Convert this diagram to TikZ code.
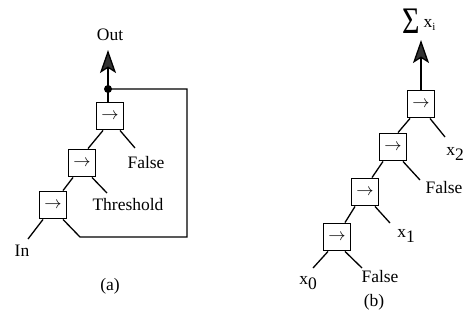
\documentclass[tikz,border=0pt]{standalone}
\usepackage{fontspec}
\setmainfont{Liberation Serif}
\usetikzlibrary{arrows.meta,calc}
\begin{document}
\begin{tikzpicture}[x=1pt,y=-1pt,
  box/.style={draw,line width=1.4pt,minimum size=27.5pt,inner sep=0pt,font=\fontsize{16}{18}\selectfont},
  wire/.style={line width=1.3pt},
  lbl/.style={font=\fontsize{17.5}{20}\selectfont,inner sep=0pt},
  bigarrow/.style={line width=1.3pt,-{Stealth[length=23pt,width=16pt,inset=5pt,fill=black!80]}}]
\useasboundingbox (0,0) rectangle (470,325);
% ---------- panel (a)
\node[box] (a1) at (110,116) {$\rightarrow$};
\node[box] (a2) at (82,163) {$\rightarrow$};
\node[box] (a3) at (53,205) {$\rightarrow$};
\node[lbl] (out) at (110,35) {Out};
\node[lbl] (fa) at (146,163) {False};
\node[lbl] (th) at (128,205) {Threshold};
\node[lbl] (in) at (22,251) {In};
\node[lbl] (la) at (110,286) {(a)};
\fill (108,89) circle (4pt) coordinate (dot);
\coordinate (tipa) at (108,50);
\coordinate (fae) at (135,148);
\coordinate (the) at (107,193);
\coordinate (ine) at (28,239);
\coordinate (c1) at (187,89);
\coordinate (c2) at (187,237);
\coordinate (c3) at (80,237);
\draw[wire] (a1.north -| dot) -- (dot);
\draw[bigarrow] (dot) -- (tipa);
\draw[wire] ($(a1.south)+(-7,0)$) -- ($(a2.north)+(6,0)$);
\draw[wire] ($(a1.south)+(10,0)$) -- (fae);
\draw[wire] ($(a2.south)+(-9,0)$) -- ($(a3.north)+(10,0)$);
\draw[wire] ($(a2.south)+(10,0)$) -- (the);
\draw[wire] ($(a3.south)+(-10,0)$) -- (ine);
\draw[wire] ($(a3.south)+(10,0)$) -- (c3) -- (c2) -- (c1) -- (dot);
% ---------- panel (b)
\node[box] (b4) at (421,104) {$\rightarrow$};
\node[box] (b3) at (393,147) {$\rightarrow$};
\node[box] (b2) at (365,192) {$\rightarrow$};
\node[box] (b1) at (337,237) {$\rightarrow$};
\node[lbl,anchor=base west] (sum) at (402,33) {\scalebox{1}[1.25]{\fontsize{30}{30}\selectfont Σ}\hspace{4pt}\raisebox{6pt}{x\raisebox{-3pt}{\fontsize{11}{12}\selectfont i}}};
\node[lbl] (x2) at (455,154) {x\raisebox{-5pt}{2}};
\node[lbl] (fb1) at (444,188) {False};
\node[lbl] (x1) at (406,236) {x\raisebox{-5pt}{1}};
\node[lbl] (x0) at (308,283) {x\raisebox{-5pt}{0}};
\node[lbl] (fb0) at (380,277) {False};
\node[lbl] (lb) at (374,302) {(b)};
\coordinate (tipb) at (421,40);
\coordinate (x2e) at (445,137);
\coordinate (fb1e) at (420,180);
\coordinate (x1e) at (390,223);
\coordinate (x0e) at (313,268);
\coordinate (fb0e) at (362,268);
\draw[bigarrow] (b4.north) -- (tipb);
\draw[wire] ($(b4.south)+(-11,0)$) -- ($(b3.north)+(5,0)$);
\draw[wire] ($(b4.south)+(9,0)$) -- (x2e);
\draw[wire] ($(b3.south)+(-10,0)$) -- ($(b2.north)+(7,0)$);
\draw[wire] ($(b3.south)+(10,0)$) -- (fb1e);
\draw[wire] ($(b2.south)+(-10,0)$) -- ($(b1.north)+(8,0)$);
\draw[wire] ($(b2.south)+(10,0)$) -- (x1e);
\draw[wire] ($(b1.south)+(-9,0)$) -- (x0e);
\draw[wire] ($(b1.south)+(8,0)$) -- (fb0e);
\end{tikzpicture}
\end{document}
